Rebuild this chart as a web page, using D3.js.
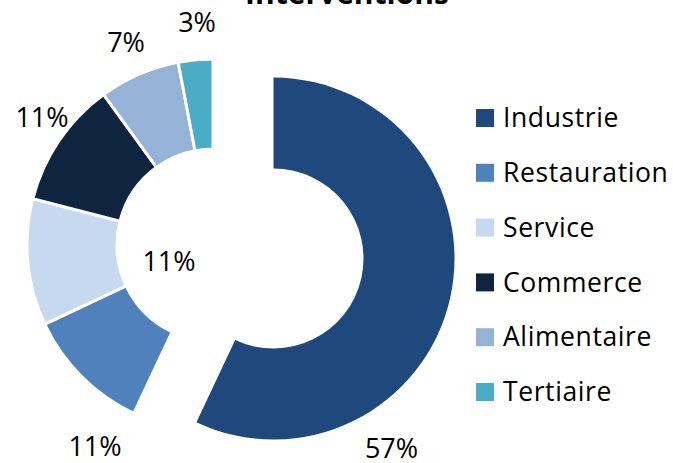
<!DOCTYPE html>
<html>
<head>
<meta charset="utf-8">
<script src="https://cdnjs.cloudflare.com/ajax/libs/d3/7.8.5/d3.min.js"></script>
<style>
  body { margin: 0; background: #fff; }
  text { font-family: "Open Sans", "DejaVu Sans", sans-serif; fill: #000; }
</style>
</head>
<body>
<div id="chart"></div>
<script>
var categories = ["Industrie", "Restauration", "Service", "Commerce", "Alimentaire", "Tertiaire"];
var values = [57, 11, 11, 11, 7, 3];
var colors = ["#1F497D", "#4F81BD", "#C6D9F1", "#0F243E", "#95B3D7", "#4BACC6"];
var title = "Interventions";

var w = 673, h = 463;
var cx = 213, cy = 245;
var outerRadius = 186, innerRadius = 96;
var explodeDist = 62;

// label offsets from each slice's center (excel moved them around)
var labelOffsets = [[118, 190], [-118, 202], [-44, 17], [-171, -127], [-87, -202], [-16, -222]];

var svg = d3.select("#chart")
  .append("svg")
  .attr("width", w)
  .attr("height", h);

// title, mostly cut off at the top
svg.append("text")
  .attr("x", 347)
  .attr("y", 4)
  .attr("text-anchor", "middle")
  .attr("font-size", "30px")
  .attr("font-weight", "bold")
  .text(title);

var pie = d3.pie().sort(null).value(function(d) { return d; });
var arcs = pie(values);

var arc = d3.arc().innerRadius(innerRadius).outerRadius(outerRadius);
var arcBig = d3.arc().innerRadius(90).outerRadius(181);

var slices = svg.selectAll("g.slice")
  .data(arcs)
  .enter()
  .append("g")
  .attr("class", "slice")
  .attr("transform", function(d, i) {
    var ox = 0, oy = 0;
    if (i == 0) {
      var mid = (d.startAngle + d.endAngle) / 2;
      ox = Math.sin(mid) * explodeDist;
      oy = -Math.cos(mid) * explodeDist;
    }
    return "translate(" + (cx + ox) + "," + (cy + oy) + ")";
  });

slices.append("path")
  .attr("fill", function(d, i) { return colors[i]; })
  .attr("stroke", "#fff")
  .attr("stroke-width", function(d, i) { return i == 0 ? 0 : 3; })
  .attr("d", function(d, i) { return i == 0 ? arcBig(d) : arc(d); });

// percentage labels
slices.append("text")
  .attr("x", function(d, i) { return labelOffsets[i][0]; })
  .attr("y", function(d, i) { return labelOffsets[i][1]; })
  .attr("dy", "0.35em")
  .attr("text-anchor", "middle")
  .attr("font-size", "27px")
  .text(function(d) { return d.value + "%"; });

// legend
var legendY = d3.scalePoint().domain(categories).range([118, 392]);

var legend = svg.selectAll("g.legend")
  .data(categories)
  .enter()
  .append("g")
  .attr("class", "legend")
  .attr("transform", function(d) { return "translate(476," + legendY(d) + ")"; });

legend.append("rect")
  .attr("x", 0)
  .attr("y", -9)
  .attr("width", 18)
  .attr("height", 18)
  .attr("fill", function(d, i) { return colors[i]; });

legend.append("text")
  .attr("x", 27)
  .attr("dy", "0.35em")
  .attr("font-size", "26.5px")
  .attr("letter-spacing", "0.6px")
  .text(function(d) { return d; });
</script>
</body>
</html>
